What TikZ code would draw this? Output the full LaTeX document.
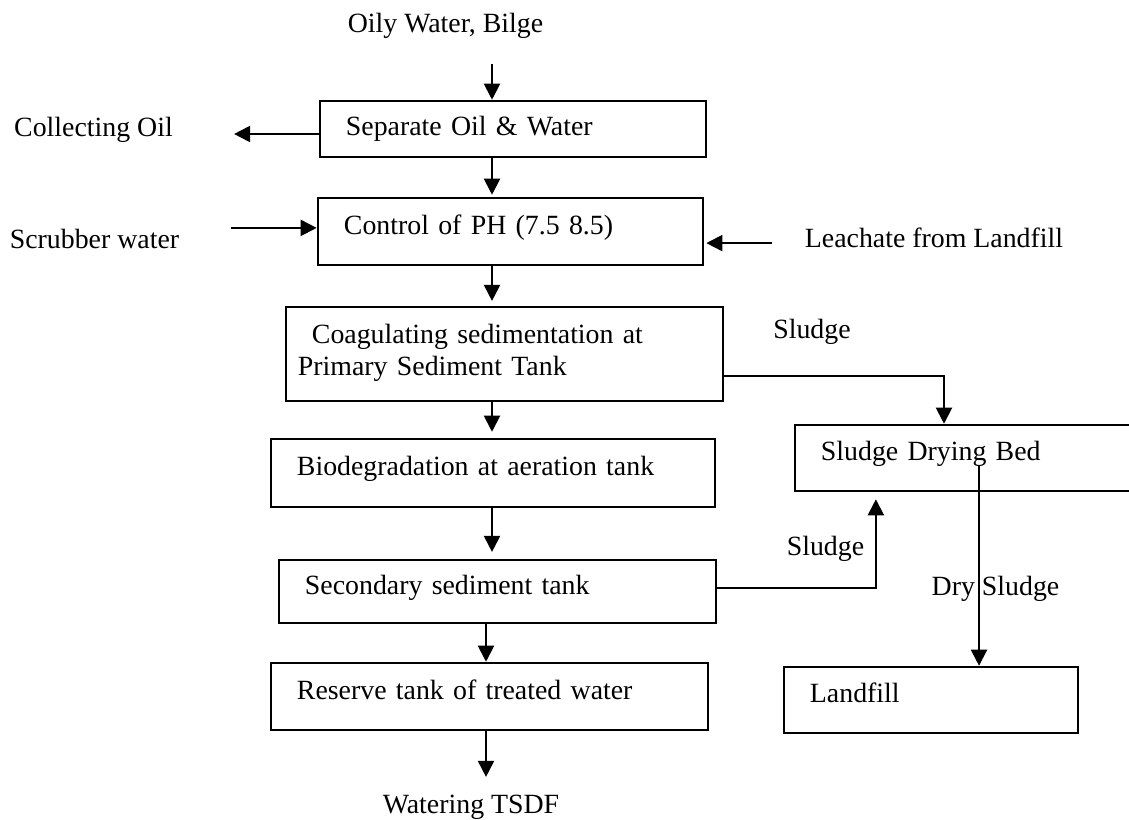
\documentclass[tikz,border=0pt]{standalone}
\usepackage{fontspec}
\setmainfont{Liberation Serif}
\usetikzlibrary{arrows.meta,calc}
\tikzset{
  proc/.style={draw,line width=1.8pt,inner xsep=0.65cm,inner ysep=0pt,align=left,text depth=0.35cm,font=\fontsize{19.8pt}{22.7pt}\selectfont},
  lbl/.style={inner sep=0pt,font=\fontsize{19.8pt}{22.7pt}\selectfont},
  flow/.style={-{Triangle[length=0.4cm,width=0.4cm]},line width=1.4pt},
}
\begin{document}
\begin{tikzpicture}[x=0.025cm,y=-0.025cm]
  \useasboundingbox (0,0) rectangle (1129,820);
  \clip (0,0) rectangle (1129,820);
  % treatment line
  \node[proc,text width=8.35cm,minimum height=1.4cm,text depth=0.15cm] (sep) at (513,129) {Separate Oil \& Water};
  \node[proc,text width=8.325cm,minimum height=1.675cm] (ph) at (510.5,231.5) {Control of PH (7.5 8.5)};
  \node[proc,text width=10.325cm,inner xsep=0.3cm,minimum height=2.35cm,text depth=1cm] (coag) at (504.5,354) {\hspace*{0.35cm}Coagulating sedimentation at\\Primary Sediment Tank};
  \node[proc,text width=9.8cm,minimum height=1.7cm] (bio) at (493,473) {Biodegradation at aeration tank};
  \node[proc,text width=9.625cm,minimum height=1.575cm] (sec) at (497.5,591.5) {Secondary sediment tank};
  \node[proc,text width=9.625cm,minimum height=1.675cm] (res) at (489.5,696.5) {Reserve tank of treated water};
  % sludge line
  \node[proc,text width=7.325cm,minimum height=1.65cm] (sdb) at (967.5,458) {Sludge Drying Bed};
  \node[proc,text width=6.05cm,minimum height=1.65cm] (land) at (931,700) {Landfill};
  \node[lbl] (oily) at (445.5,26) {Oily Water, Bilge};
  \node[lbl] (coll) at (93.5,130) {Collecting Oil};
  \node[lbl] (scrub) at (94.5,239) {Scrubber water};
  \node[lbl] (leach) at (934,238) {Leachate from Landfill};
  \node[lbl] (sl1) at (812,332) {Sludge};
  \node[lbl] (sl2) at (825.5,549) {Sludge};
  \node[lbl] (drysl) at (995.5,589) {Dry Sludge};
  \node[lbl] (water) at (471,807) {Watering TSDF};
  \coordinate (spine) at (492,0);
  \coordinate (spine2) at (486,0);
  \coordinate (oilout) at ([yshift=-0.125cm]sep.west);
  \coordinate (scrubin) at ([yshift=0.09cm]ph.west);
  \coordinate (leachin) at ([yshift=-0.29cm]ph.east);
  \coordinate (drop) at ([xshift=1.2cm]land.north);
  \draw[flow,shorten <=0.63cm] (oily.south -| spine) -- (sep.north -| spine);
  \foreach \a/\b/\g in {sep/ph/0.05,ph/coag/0.12,coag/bio/0.15,bio/sec/0.17}
    \draw[flow,shorten >=\g cm] (\a.south -| spine) -- (\b.north -| spine);
  \draw[flow] (sec.south -| spine2) -- (res.north -| spine2);
  \draw[flow,shorten >=0.44cm] (res.south -| spine2) -- (water.north -| spine2);
  \draw[flow,shorten >=1.525cm] (oilout) -- (oilout -| coll.east);
  \draw[flow,shorten <=1.3cm] (scrubin -| scrub.east) -- (scrubin);
  \draw[flow,shorten <=0.825cm,shorten >=0.05cm] (leachin -| leach.west) -- (leachin);
  \draw[flow] ([yshift=-0.55cm]coag.east) -| ([xshift=-0.5875cm]sdb.north);
  \draw[flow,shorten >=0.175cm] ([yshift=0.09cm]sec.east) -| ([xshift=-2.29cm]sdb.south);
  \draw[flow,shorten <=0.175cm] (drop |- sdb.center) -- (drop);
\end{tikzpicture}
\end{document}
